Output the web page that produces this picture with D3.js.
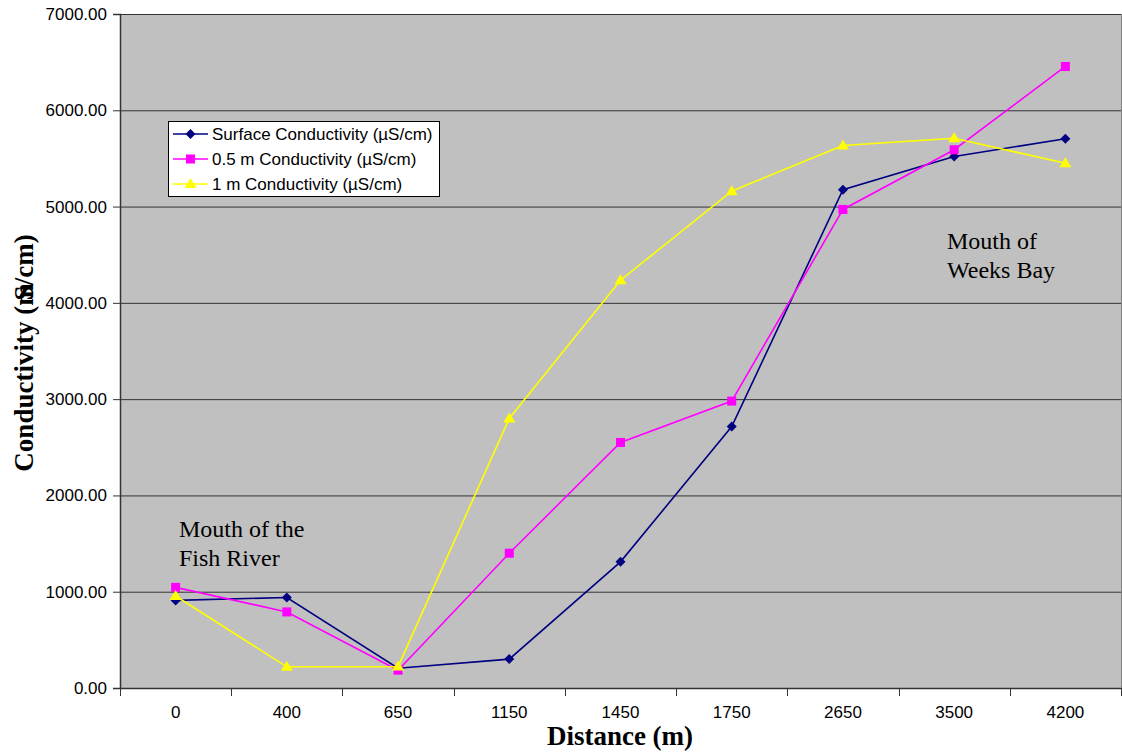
<!DOCTYPE html>
<html>
<head>
<meta charset="utf-8">
<script src="https://cdn.jsdelivr.net/npm/d3@7"></script>
<style>
  html, body { margin: 0; padding: 0; background: #fff; }
  svg { display: block; }
</style>
</head>
<body>
<svg id="chart" width="1122" height="756"></svg>
<script>
// Sampling stations along the transect (m)
const distances = ["0", "400", "650", "1150", "1450", "1750", "2650", "3500", "4200"];

// Conductivity readings (µS/cm) at each depth
const surfaceCond = [910, 940, 205, 300, 1310, 2715, 5175, 5520, 5705];
const halfMeterCond = [1045, 790, 185, 1400, 2550, 2980, 4970, 5590, 6455];
const oneMeterCond = [955, 220, 222, 2800, 4235, 5160, 5635, 5710, 5450];

const yTicks = [0, 1000, 2000, 3000, 4000, 5000, 6000, 7000];

const seriesNames = [
  "Surface Conductivity (\u00b5S/cm)",
  "0.5 m Conductivity (\u00b5S/cm)",
  "1 m Conductivity (\u00b5S/cm)"
];

const series = [
  { name: seriesNames[0], values: surfaceCond, color: "#000080", marker: "diamond" },
  { name: seriesNames[1], values: halfMeterCond, color: "#ff00ff", marker: "square" },
  { name: seriesNames[2], values: oneMeterCond, color: "#ffff00", marker: "triangle" }
];

const sansFont = "Arial, 'Liberation Sans', sans-serif";
const serifFont = "'Times New Roman', 'Liberation Serif', serif";

const svg = d3.select("#chart");
const plot = { left: 120, right: 1121, top: 14, bottom: 688 };

const x = d3.scaleBand().domain(distances).range([plot.left, plot.right]).padding(0);
const y = d3.scaleLinear().domain([0, 7000]).range([plot.bottom, plot.top]);

// plot background
svg.append("rect")
  .attr("x", plot.left).attr("y", plot.top)
  .attr("width", plot.right - plot.left).attr("height", plot.bottom - plot.top)
  .attr("fill", "#c0c0c0");

// horizontal gridlines
svg.append("g")
  .selectAll("line")
  .data(yTicks.filter(d => d > 0))
  .join("line")
  .attr("x1", plot.left).attr("x2", plot.right)
  .attr("y1", d => y(d) + 0.5).attr("y2", d => y(d) + 0.5)
  .attr("stroke", "#333").attr("stroke-width", 1);

// right border of plot area
svg.append("line")
  .attr("x1", plot.right + 0.5).attr("x2", plot.right + 0.5)
  .attr("y1", plot.top).attr("y2", plot.bottom)
  .attr("stroke", "#808080").attr("stroke-width", 1);

// y axis
const yAxis = svg.append("g")
  .attr("transform", `translate(${plot.left},0)`)
  .call(d3.axisLeft(y).tickValues(yTicks).tickFormat(d3.format(".2f")).tickSizeOuter(0).tickSize(7).tickPadding(6));
yAxis.select(".domain").attr("stroke", "#333").attr("stroke-width", 1.5);
yAxis.selectAll(".tick line").attr("stroke", "#333");
yAxis.selectAll(".tick text")
  .attr("font-family", sansFont)
  .attr("font-size", 17).attr("fill", "#000");

// x axis (ticks at category boundaries)
const xAxisG = svg.append("g").attr("transform", `translate(0,${plot.bottom})`);
xAxisG.append("line")
  .attr("x1", plot.left).attr("x2", plot.right)
  .attr("y1", 0.5).attr("y2", 0.5)
  .attr("stroke", "#333").attr("stroke-width", 1.5);
const boundaries = distances.map(d => x(d)).concat([x(distances[distances.length - 1]) + x.bandwidth()]);
xAxisG.selectAll("line.tk")
  .data(boundaries)
  .join("line").attr("class", "tk")
  .attr("x1", d => Math.round(d) + 0.5).attr("x2", d => Math.round(d) + 0.5)
  .attr("y1", 0).attr("y2", 8)
  .attr("stroke", "#333");
xAxisG.selectAll("text")
  .data(distances)
  .join("text")
  .attr("x", d => x(d) + x.bandwidth() / 2)
  .attr("y", 30)
  .attr("text-anchor", "middle")
  .attr("font-family", sansFont)
  .attr("font-size", 17)
  .text(d => d);

// axis titles
svg.append("text")
  .attr("x", 620).attr("y", 745)
  .attr("text-anchor", "middle")
  .attr("font-family", serifFont)
  .attr("font-weight", "bold").attr("font-size", 27)
  .text("Distance (m)");

const yTitle = svg.append("text")
  .attr("transform", "translate(33,353) rotate(-90)")
  .attr("text-anchor", "middle")
  .attr("font-family", serifFont)
  .attr("font-weight", "bold").attr("font-size", 27);
yTitle.append("tspan").text("Conductivity (m");
yTitle.append("tspan").attr("dx", -17).text("S");
yTitle.append("tspan").text("/cm)");

// series lines and markers
const line = d3.line()
  .x((d, i) => x(distances[i]) + x.bandwidth() / 2)
  .y(d => y(d));

function drawMarker(g, type, cx, cy, color) {
  if (type === "diamond") {
    g.append("path")
      .attr("d", `M${cx},${cy - 5}L${cx + 5},${cy}L${cx},${cy + 5}L${cx - 5},${cy}Z`)
      .attr("fill", color);
  } else if (type === "square") {
    g.append("rect")
      .attr("x", cx - 4.5).attr("y", cy - 4.5)
      .attr("width", 9).attr("height", 9)
      .attr("fill", color);
  } else {
    g.append("path")
      .attr("d", `M${cx},${cy - 6}L${cx + 6},${cy + 4}L${cx - 6},${cy + 4}Z`)
      .attr("fill", color);
  }
}

series.forEach(s => {
  const g = svg.append("g");
  g.append("path")
    .datum(s.values)
    .attr("d", line)
    .attr("fill", "none")
    .attr("stroke", s.color)
    .attr("stroke-width", 1.6);
  s.values.forEach((v, i) => {
    drawMarker(g, s.marker, x(distances[i]) + x.bandwidth() / 2, y(v), s.color);
  });
});

// legend
const legend = svg.append("g");
legend.append("rect")
  .attr("x", 168.5).attr("y", 121.5)
  .attr("width", 271).attr("height", 75)
  .attr("fill", "#fff").attr("stroke", "#000").attr("stroke-width", 1);
series.forEach((s, i) => {
  const ly = 134 + i * 25;
  legend.append("line")
    .attr("x1", 173).attr("x2", 208)
    .attr("y1", ly).attr("y2", ly)
    .attr("stroke", s.color).attr("stroke-width", 1.6);
  drawMarker(legend, s.marker, 190.5, ly, s.color);
  legend.append("text")
    .attr("x", 212).attr("y", ly + 6)
    .attr("font-family", sansFont)
    .attr("font-size", 17)
    .text(s.name);
});

// site annotations
const notes = [
  { lines: ["Mouth of the", "Fish River"], x: 179, y: 537 },
  { lines: ["Mouth of", "Weeks Bay"], x: 947, y: 249 }
];
notes.forEach(n => {
  const t = svg.append("text")
    .attr("font-family", serifFont)
    .attr("font-size", 24);
  n.lines.forEach((l, i) => {
    t.append("tspan").attr("x", n.x).attr("y", n.y + i * 29).text(l);
  });
});
</script>
</body>
</html>
